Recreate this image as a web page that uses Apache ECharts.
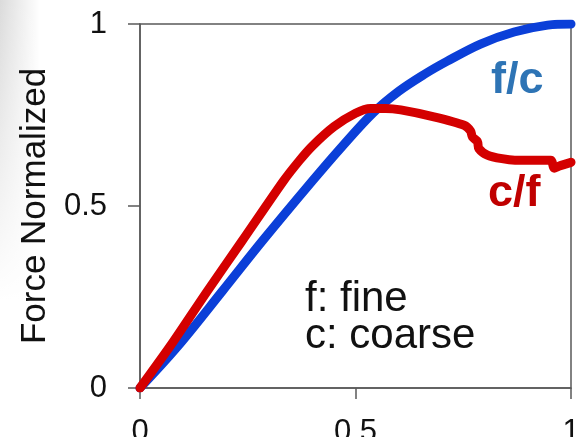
<!DOCTYPE html>
<html>
<head>
<meta charset="utf-8">
<script src="https://cdn.jsdelivr.net/npm/echarts@6/dist/echarts.min.js"></script>
<style>
html,body{margin:0;padding:0;background:#fff;}
#chart{width:583px;height:437px;}
</style>
</head>
<body>
<div id="chart"></div>
<script>
// f/c (fine / coarse) curve: [x, y]
const fcX = [0, 0.088, 0.191, 0.284, 0.40, 0.47, 0.54, 0.60, 0.66, 0.713, 0.79, 0.868, 0.946, 1.0];
const fcY = [0, 0.115, 0.266, 0.404, 0.569, 0.665, 0.755, 0.815, 0.862, 0.898, 0.945, 0.978, 0.997, 1.0];
// c/f (coarse / fine) curve
const cfX = [0, 0.070, 0.156, 0.237, 0.333, 0.37, 0.40, 0.45, 0.50, 0.535, 0.57, 0.605, 0.682, 0.752, 0.767, 0.771, 0.783, 0.786, 0.806, 0.84, 0.87, 0.953, 0.961, 0.973, 1.0];
const cfY = [0, 0.115, 0.266, 0.404, 0.569, 0.625, 0.665, 0.718, 0.755, 0.768, 0.768, 0.764, 0.745, 0.722, 0.706, 0.690, 0.677, 0.658, 0.640, 0.630, 0.626, 0.626, 0.604, 0.610, 0.620];
const xTicks = [0, 0.5, 1];
const yTicks = [0, 0.5, 1];
const yTitle = 'Force Normalized';
const labelFC = 'f/c';
const labelCF = 'c/f';
const noteLines = ['f: fine', 'c: coarse'];

const pair = (xs, ys) => xs.map((x, i) => [x, ys[i]]);
const FONT = 'Liberation Sans, Arial, sans-serif';

const chart = echarts.init(document.getElementById('chart'), null, {renderer: 'canvas'});
chart.setOption({
  animation: false,
  backgroundColor: '#ffffff',
  grid: {left: 140, right: 12, top: 24, bottom: 49, containLabel: false, outerBoundsMode: 'none',
    show: true, borderColor: '#5a5a5a', borderWidth: 1.5, backgroundColor: 'transparent'},
  xAxis: {
    type: 'value', min: 0, max: 1, interval: 0.5,
    axisLine: {show: true, onZero: false, lineStyle: {color: '#5a5a5a', width: 1.5}},
    axisTick: {show: true, length: 11, lineStyle: {color: '#5a5a5a', width: 1.5}},
    splitLine: {show: false},
    axisLabel: {margin: 29, fontSize: 31, color: '#111', fontFamily: FONT, hideOverlap: false,
      formatter: v => xTicks.includes(v) ? String(v) : ''}
  },
  yAxis: {
    type: 'value', min: 0, max: 1, interval: 0.5,
    name: yTitle, nameLocation: 'middle', nameGap: 77, nameRotate: 90,
    nameTextStyle: {fontSize: 35, color: '#111', fontFamily: FONT},
    axisLine: {show: true, lineStyle: {color: '#5a5a5a', width: 1.5}},
    axisTick: {show: true, length: 12, lineStyle: {color: '#5a5a5a', width: 1.5}},
    splitLine: {show: false},
    axisLabel: {margin: 33, fontSize: 31, color: '#111', fontFamily: FONT,
      formatter: v => yTicks.includes(v) ? String(v) : ''}
  },
  series: [
    {type: 'line', data: pair(fcX, fcY), showSymbol: false, smooth: 0.35,
     lineStyle: {color: '#0b3fd8', width: 9, cap: 'round', join: 'round'}, z: 2},
    {type: 'line', data: pair(cfX, cfY), showSymbol: false, smooth: 0.25,
     lineStyle: {color: '#d40000', width: 9, cap: 'round', join: 'round'}, z: 3}
  ],
  graphic: [
    {type: 'rect', shape: {x: 0, y: 0, width: 40, height: 300}, silent: true, z: -2,
     style: {fill: new echarts.graphic.LinearGradient(0, 0, 1, 0, [
       {offset: 0, color: 'rgba(0,0,0,0.14)'}, {offset: 1, color: 'rgba(0,0,0,0)'}])}},
    {type: 'rect', shape: {x: 0, y: 0, width: 40, height: 300}, silent: true, z: -1,
     style: {fill: new echarts.graphic.LinearGradient(0, 0, 0, 1, [
       {offset: 0, color: 'rgba(255,255,255,0)'}, {offset: 1, color: 'rgba(255,255,255,1)'}])}},
    {type: 'text', x: 491, y: 81, style: {text: labelFC, font: 'bold 45px ' + FONT, fill: '#2e74b5', textVerticalAlign: 'middle'}},
    {type: 'text', x: 488, y: 194, style: {text: labelCF, font: 'bold 45px ' + FONT, fill: '#c00000', textVerticalAlign: 'middle'}},
    {type: 'text', x: 305, y: 299, style: {text: noteLines[0], font: '42px ' + FONT, fill: '#111', textVerticalAlign: 'middle'}},
    {type: 'text', x: 305, y: 336, style: {text: noteLines[1], font: '42px ' + FONT, fill: '#111', textVerticalAlign: 'middle'}}
  ]
});
</script>
</body>
</html>
